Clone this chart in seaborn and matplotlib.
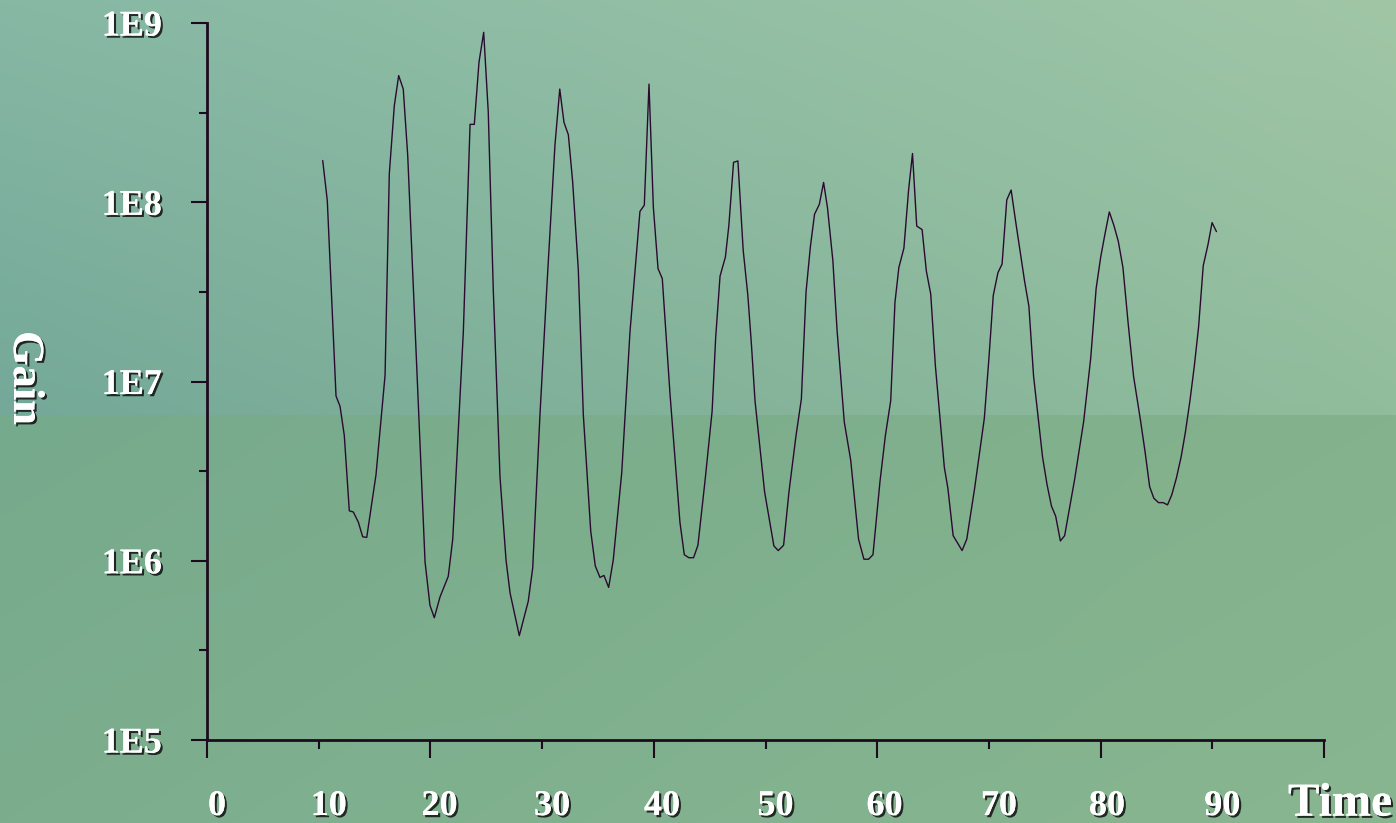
import numpy as np
import pandas as pd
import matplotlib
matplotlib.use("Agg")
import matplotlib.pyplot as plt
import matplotlib.patheffects as pe
from matplotlib.ticker import FixedLocator, FixedFormatter, NullFormatter
from matplotlib.transforms import ScaledTranslation
import seaborn as sns

# gain over time
time = [10.36, 10.77, 11.55, 11.91, 12.29, 12.74, 13.10, 13.55, 13.94, 14.30,
        15.13, 15.94, 16.32, 16.77, 17.16, 17.57, 17.97, 19.52, 19.96, 20.35,
        20.86, 21.60, 22.00, 22.95, 23.55, 23.93, 24.35, 24.77, 25.18, 25.63,
        26.23, 26.77, 27.13, 27.96, 28.76, 29.16, 29.81, 30.41, 31.15, 31.58,
        31.96, 32.35, 32.74, 33.24, 33.69, 34.35, 34.76, 35.18, 35.54, 35.96,
        36.37, 37.13, 37.87, 38.76, 39.15, 39.57, 39.96, 40.38, 40.76, 41.45,
        42.34, 42.73, 43.14, 43.56, 43.95, 44.58, 45.22, 45.54, 45.93, 46.41,
        46.72, 47.14, 47.53, 48.00, 48.42, 48.74, 49.06, 49.92, 50.75, 51.14,
        51.62, 52.10, 52.73, 53.21, 53.63, 54.02, 54.39, 54.82, 55.20, 55.55,
        56.03, 56.41, 57.05, 57.63, 58.33, 58.81, 59.23, 59.62, 60.25, 60.73,
        61.21, 61.59, 61.94, 62.39, 62.81, 63.16, 63.54, 64.02, 64.40, 64.79,
        65.21, 66.01, 66.33, 66.80, 67.60, 68.02, 68.72, 69.59, 70.00, 70.39,
        70.81, 71.18, 71.60, 71.99, 72.40, 72.78, 73.20, 73.58, 74.00, 74.80,
        75.21, 75.60, 75.98, 76.40, 76.78, 77.20, 77.67, 78.48, 79.11, 79.60,
        80.01, 80.39, 80.78, 81.19, 81.58, 82.00, 82.47, 82.95, 83.59, 83.98,
        84.39, 84.77, 85.19, 85.60, 85.99, 86.37, 86.79, 87.21, 87.59, 88.00,
        88.39, 88.77, 89.19, 89.61, 89.98, 90.37]

gain = [1.71e8, 1.02e8, 8.30e6, 7.27e6, 5.01e6, 1.90e6, 1.87e6, 1.64e6, 1.36e6, 1.35e6,
        3.02e6, 1.08e7, 1.44e8, 3.46e8, 5.09e8, 4.28e8, 1.82e8, 9.87e5, 5.64e5, 4.81e5,
        6.28e5, 8.19e5, 1.32e6, 1.90e7, 2.72e8, 2.72e8, 6.04e8, 8.87e8, 3.19e8, 3.24e7,
        2.94e6, 1.01e6, 6.62e5, 3.82e5, 5.94e5, 9.12e5, 6.53e6, 3.24e7, 2.08e8, 4.28e8,
        2.79e8, 2.38e8, 1.29e8, 4.22e7, 6.53e6, 1.47e6, 9.36e5, 8.07e5, 8.28e5, 7.10e5,
        1.01e6, 3.10e6, 1.90e7, 8.89e7, 9.63e7, 4.56e8, 9.37e7, 4.26e7, 3.75e7, 8.53e6,
        1.64e6, 1.08e6, 1.04e6, 1.04e6, 1.22e6, 2.77e6, 6.82e6, 1.76e7, 3.87e7, 4.95e7,
        7.43e7, 1.67e8, 1.70e8, 5.42e7, 3.02e7, 1.61e7, 7.82e6, 2.42e6, 1.21e6, 1.14e6,
        1.22e6, 2.42e6, 4.98e6, 7.98e6, 3.16e7, 5.67e7, 8.57e7, 9.74e7, 1.29e8, 9.31e7,
        4.73e7, 1.92e7, 5.96e6, 3.63e6, 1.32e6, 1.02e6, 1.02e6, 1.08e6, 2.77e6, 4.98e6,
        7.82e6, 2.76e7, 4.33e7, 5.54e7, 1.17e8, 1.87e8, 7.36e7, 7.04e7, 4.13e7, 3.08e7,
        1.22e7, 3.32e6, 2.53e6, 1.38e6, 1.14e6, 1.32e6, 2.53e6, 6.23e6, 1.34e7, 3.02e7,
        4.05e7, 4.52e7, 1.03e8, 1.17e8, 7.77e7, 5.42e7, 3.61e7, 2.63e7, 1.07e7, 3.80e6,
        2.65e6, 2.02e6, 1.77e6, 1.29e6, 1.38e6, 1.93e6, 2.83e6, 5.96e6, 1.34e7, 3.30e7,
        4.95e7, 6.64e7, 8.83e7, 7.43e7, 6.07e7, 4.33e7, 2.10e7, 1.07e7, 5.96e6, 4.06e6,
        2.59e6, 2.23e6, 2.11e6, 2.11e6, 2.05e6, 2.33e6, 2.90e6, 3.80e6, 5.21e6, 7.82e6,
        1.22e7, 2.01e7, 4.43e7, 5.79e7, 7.70e7, 6.86e7]

y_ticks = [1e5, 1e6, 1e7, 1e8, 1e9]
y_tick_labels = ["1E5", "1E6", "1E7", "1E8", "1E9"]
y_minor_ticks = [10 ** 5.5, 10 ** 6.5, 10 ** 7.5, 10 ** 8.5]
x_major_ticks = [0, 20, 40, 60, 80, 100]
x_major_labels = ["0", "20", "40", "60", "80", ""]
x_minor_ticks = [10, 30, 50, 70, 90]
x_minor_labels = ["10", "30", "50", "70", "90"]

INK = "#1e0a1e"
SHADOW = [pe.withSimplePatchShadow(offset=(1.6, -1.6), shadow_rgbFace="#101010", alpha=0.85),
          pe.Normal()]


def draw_background(fig):
    """Green slide-style backdrop: teal on the left, lighter band on top."""
    h, w = 823, 1396
    xx = np.linspace(0, 1, w)[None, :, None]
    up = np.linspace(0, 1, 415)[:, None, None]
    lo = np.linspace(0, 1, h - 415)[:, None, None]
    c = lambda s: np.array([int(s[i:i + 2], 16) for i in (1, 3, 5)]) / 255.0
    top_l, top_r = c("#86b8a4"), c("#a0c6a6")
    mid_l, mid_r = c("#74a898"), c("#92bd9c")
    low_l, low_r = c("#76aa8c"), c("#84b28c")
    bot_l, bot_r = c("#7cae8e"), c("#88b690")
    upper = (1 - up) * ((1 - xx) * top_l + xx * top_r) + up * ((1 - xx) * mid_l + xx * mid_r)
    lower = (1 - lo) * ((1 - xx) * low_l + xx * low_r) + lo * ((1 - xx) * bot_l + xx * bot_r)
    img = np.concatenate([upper, lower], axis=0)
    bg = fig.add_axes([0, 0, 1, 1], zorder=-10)
    bg.imshow(np.clip(img, 0, 1), aspect="auto", interpolation="bilinear")
    bg.axis("off")


sns.set_theme(style="ticks")
plt.rcParams.update({
    "font.family": ["Liberation Serif", "DejaVu Serif"],
    "font.weight": "bold",
})

fig = plt.figure(figsize=(13.96, 8.23), dpi=100)
draw_background(fig)
ax = fig.add_axes([207 / 1396, 1 - 740 / 823, 1117 / 1396, 717 / 823])
ax.patch.set_alpha(0)

df = pd.DataFrame({"Time": time, "Gain": gain})
sns.lineplot(data=df, x="Time", y="Gain", color="#2a0a30", linewidth=1.0,
             estimator=None, sort=False, ax=ax)

ax.set_yscale("log")
ax.set_xlim(0, 100)
ax.set_ylim(1e5, 1e9)

ax.yaxis.set_major_locator(FixedLocator(y_ticks))
ax.yaxis.set_major_formatter(FixedFormatter(y_tick_labels))
ax.yaxis.set_minor_locator(FixedLocator(y_minor_ticks))
ax.yaxis.set_minor_formatter(NullFormatter())
ax.xaxis.set_major_locator(FixedLocator(x_major_ticks))
ax.xaxis.set_major_formatter(FixedFormatter(x_major_labels))
ax.xaxis.set_minor_locator(FixedLocator(x_minor_ticks))
ax.xaxis.set_minor_formatter(FixedFormatter(x_minor_labels))

sns.despine(ax=ax)
for side in ("left", "bottom"):
    ax.spines[side].set_color(INK)
    ax.spines[side].set_linewidth(2.0)

ax.tick_params(axis="both", which="both", color=INK, width=1.5,
               labelcolor="white", labelsize=26)
ax.tick_params(axis="y", which="major", length=11.5, pad=21)
ax.tick_params(axis="y", which="minor", length=6)
ax.tick_params(axis="x", which="major", length=13, pad=23)
ax.tick_params(axis="x", which="minor", length=6.5, pad=29.5)

ax.set_xlabel("")
ax.set_ylabel("")

# the original's x labels sit a little right of their ticks, more so on the left
for tick in ax.xaxis.get_major_ticks() + ax.xaxis.get_minor_ticks():
    dx = (10 - 0.09 * tick.get_loc()) / 100
    tick.label1.set_transform(tick.label1.get_transform()
                              + ScaledTranslation(dx, 0, fig.dpi_scale_trans))

for lab in ax.get_xticklabels(which="both") + ax.get_yticklabels():
    lab.set_fontweight("bold")
    lab.set_path_effects(SHADOW)

ax.text(1.0143, -0.1055, "Time", transform=ax.transAxes, ha="center", va="baseline",
        fontsize=34, fontweight="bold", color="white", path_effects=SHADOW)
fig.text(25 / 1396, 1 - 378 / 823, "Gain", rotation=270, ha="center", va="center",
         fontsize=32, fontweight="bold", color="white", path_effects=SHADOW)

fig.savefig("out.png", dpi=100)
